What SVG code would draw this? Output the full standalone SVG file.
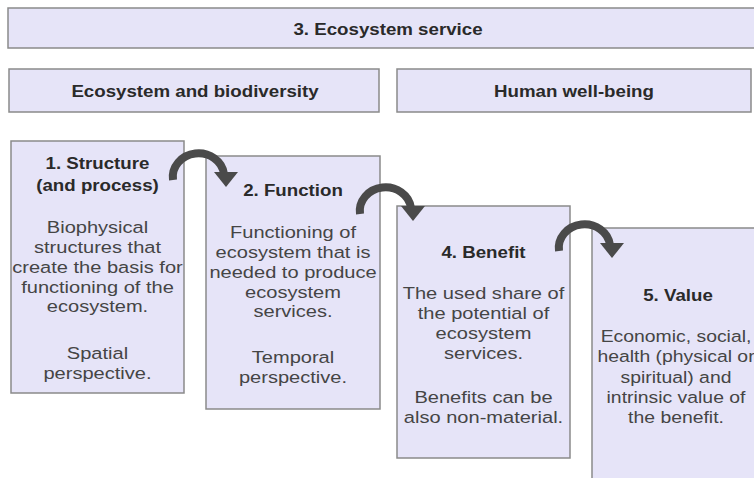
<svg xmlns="http://www.w3.org/2000/svg" width="754" height="478" viewBox="0 0 754 478">
<style>
.box{fill:#e6e4f8;stroke:#8a8a8a;stroke-width:1.5}
.t{font-family:"Liberation Sans",Arial,sans-serif;font-weight:bold;font-size:17px;fill:#2a2a2a;text-anchor:middle}
.b{font-family:"Liberation Sans",Arial,sans-serif;font-size:17px;fill:#454545;text-anchor:middle}
.arc{fill:none;stroke:#4a4a4a;stroke-width:8}
.head{fill:#4a4a4a}
</style>
<defs>
<g id="arrow">
<path class="arc" d="M -25 5 A 25 23 0 0 1 26 -1"/>
<polygon class="head" points="16,-3 40,-3 28,12"/>
</g>
</defs>
<rect width="754" height="478" fill="#ffffff"/>
<g id="ecosystem-service">
<rect class="box" x="8" y="8" width="760" height="40"/>
<g transform="translate(388,0) scale(1.1,1)"><text class="t" x="0" y="35">3. Ecosystem service</text></g>
</g>
<g id="ecosystem-biodiversity">
<rect class="box" x="9" y="69" width="370" height="43"/>
<g transform="translate(195,0) scale(1.1,1)"><text class="t" x="0" y="97">Ecosystem and biodiversity</text></g>
</g>
<g id="human-well-being">
<rect class="box" x="397" y="69" width="354" height="43"/>
<g transform="translate(574,0) scale(1.1,1)"><text class="t" x="0" y="97">Human well-being</text></g>
</g>
<g id="structure">
<rect class="box" x="11" y="141" width="173" height="252"/>
<g transform="translate(97.5,0) scale(1.1,1)">
<text class="t" x="0" y="169">1. Structure</text>
<text class="t" x="0" y="191">(and process)</text>
</g>
<g transform="translate(97.5,0) scale(1.18,1)">
<text class="b" x="0" y="233">Biophysical</text>
<text class="b" x="0" y="253">structures that</text>
<text class="b" x="0" y="273">create the basis for</text>
<text class="b" x="0" y="293">functioning of the</text>
<text class="b" x="0" y="312">ecosystem.</text>
<text class="b" x="0" y="359">Spatial</text>
<text class="b" x="0" y="379">perspective.</text>
</g>
</g>
<g id="function">
<rect class="box" x="206" y="156" width="174" height="253"/>
<g transform="translate(293,0) scale(1.1,1)">
<text class="t" x="0" y="196">2. Function</text>
</g>
<g transform="translate(293,0) scale(1.18,1)">
<text class="b" x="0" y="238">Functioning of</text>
<text class="b" x="0" y="258">ecosystem that is</text>
<text class="b" x="0" y="278">needed to produce</text>
<text class="b" x="0" y="298">ecosystem</text>
<text class="b" x="0" y="317">services.</text>
<text class="b" x="0" y="363">Temporal</text>
<text class="b" x="0" y="383">perspective.</text>
</g>
</g>
<g id="benefit">
<rect class="box" x="397" y="206" width="173" height="252"/>
<g transform="translate(483.5,0) scale(1.1,1)">
<text class="t" x="0" y="258">4. Benefit</text>
</g>
<g transform="translate(483.5,0) scale(1.18,1)">
<text class="b" x="0" y="299">The used share of</text>
<text class="b" x="0" y="319">the potential of</text>
<text class="b" x="0" y="339">ecosystem</text>
<text class="b" x="0" y="359">services.</text>
<text class="b" x="0" y="403">Benefits can be</text>
<text class="b" x="0" y="423">also non-material.</text>
</g>
</g>
<g id="value">
<rect class="box" x="592" y="228" width="174" height="262"/>
<g transform="translate(678,0) scale(1.1,1)">
<text class="t" x="0" y="301">5. Value</text>
</g>
<g transform="translate(676,0) scale(1.14,1)">
<text class="b" x="0" y="342">Economic, social,</text>
<text class="b" x="0" y="362">health (physical or</text>
<text class="b" x="0" y="383">spiritual) and</text>
<text class="b" x="0" y="403">intrinsic value of</text>
<text class="b" x="0" y="423">the benefit.</text>
</g>
</g>
<g id="connectors">
<use href="#arrow" transform="translate(198,175)"/>
<use href="#arrow" transform="translate(385,209)"/>
<use href="#arrow" transform="translate(584,246)"/>
</g>
</svg>
